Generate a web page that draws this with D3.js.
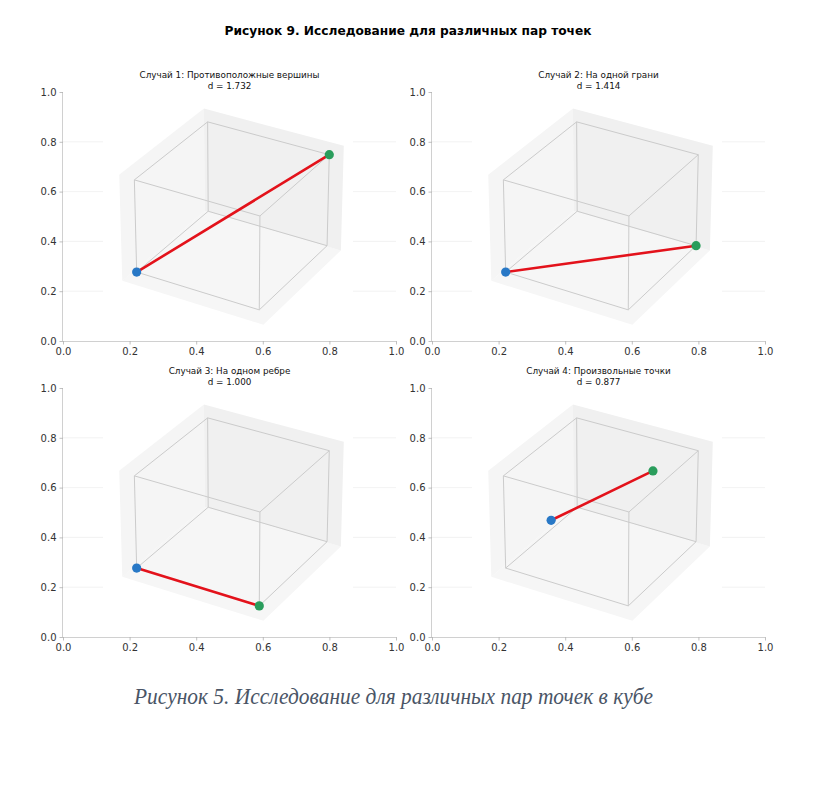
<!DOCTYPE html>
<html>
<head>
<meta charset="utf-8">
<script src="https://cdn.jsdelivr.net/npm/d3@7/dist/d3.min.js"></script>
<style>
  body { margin: 0; background: #fff; }
</style>
</head>
<body>
<div id="chart"></div>
<script>
// --- data ---
const caseTitles = [
  "Случай 1: Противоположные вершины",
  "Случай 2: На одной грани",
  "Случай 3: На одном ребре",
  "Случай 4: Произвольные точки"
]
const distances = ["1.732", "1.414", "1.000", "0.877"]
const startPoints = [[0, 0, 0], [0, 0, 0], [0, 0, 0], [0.2, 0.3, 0.4]]
const endPoints = [[1, 1, 1], [1, 1, 0], [1, 0, 0], [0.8, 0.7, 0.9]]
const axisTicks = [0, 0.2, 0.4, 0.6, 0.8, 1.0]
const gridTicks = [0.2, 0.4, 0.6, 0.8]
const cubeRange = [0, 1]

const figTitle = "Рисунок 9. Исследование для различных пар точек"
const caption = "Рисунок 5. Исследование для различных пар точек в кубе"

// --- layout ---
const W = 816, H = 804
const AX_W = 333, AX_H = 249
const panelOrigins = [[63, 92], [432, 92], [63, 388], [432, 388]]
const SANS = "DejaVu Sans, sans-serif"

// 3d view (matplotlib-like: elev 30, box aspect 4:4:3, mild perspective)
const ELEV = 30 * Math.PI / 180
const AZIM = 30 * Math.PI / 180
const Z_ASPECT = 0.75
const EYE = 16
const PAD = 0.075
const CUBE_SCALE = 141
const CUBE_CX = 169.8, CUBE_CY = 121.5

const COLORS = {
  start: "#2878c6",
  end: "#2a9d5c",
  segment: "#e3121b",
  edge: "#cbcbcb",
  paneX: "#f5f5f5",
  paneY: "#f0f0f0",
  paneZ: "#f6f6f6",
  spine: "#d0d0d0",
  grid: "#efefef",
  tickText: "#333"
}

function project([x, y, z]) {
  const X = x - 0.5, Y = y - 0.5, Z = (z - 0.5) * Z_ASPECT
  const sx = X * Math.cos(AZIM) + Y * Math.sin(AZIM)
  const fwd = -X * Math.sin(AZIM) + Y * Math.cos(AZIM)
  const up = Math.sin(ELEV) * fwd + Math.cos(ELEV) * Z
  const depth = Math.cos(ELEV) * fwd - Math.sin(ELEV) * Z
  const k = EYE / (EYE + depth)
  return [sx * k, up * k]
}

const svg = d3.select("#chart").append("svg")
  .attr("width", W).attr("height", H)
  .attr("viewBox", [0, 0, W, H])

svg.append("rect").attr("width", W).attr("height", H).attr("fill", "#fff")

svg.append("text")
  .attr("x", W / 2).attr("y", 35)
  .attr("text-anchor", "middle")
  .attr("font-family", SANS)
  .attr("font-size", "12.2px")
  .attr("font-weight", "bold")
  .attr("fill", "#000")
  .text(figTitle)

// cube geometry
const [lo, hi] = cubeRange
const plo = lo - PAD, phi = hi + PAD
const cubeEdges = []
cubeRange.forEach(a => cubeRange.forEach(b => {
  cubeEdges.push([[lo, a, b], [hi, a, b]])
  cubeEdges.push([[a, lo, b], [a, hi, b]])
  cubeEdges.push([[a, b, lo], [a, b, hi]])
}))
const panes = [
  { fill: COLORS.paneZ, pts: [[plo, plo, plo], [phi, plo, plo], [phi, phi, plo], [plo, phi, plo]] },
  { fill: COLORS.paneX, pts: [[plo, plo, plo], [plo, phi, plo], [plo, phi, phi], [plo, plo, phi]] },
  { fill: COLORS.paneY, pts: [[plo, phi, plo], [phi, phi, plo], [phi, phi, phi], [plo, phi, phi]] }
]

caseTitles.forEach((title, i) => {
  const [ox, oy] = panelOrigins[i]
  const g = svg.append("g").attr("transform", `translate(${ox},${oy})`)

  const x = d3.scaleLinear().domain([0, 1]).range([0, AX_W])
  const y = d3.scaleLinear().domain([0, 1]).range([AX_H, 0])

  // faint horizontal grid
  g.append("g")
    .selectAll("line")
    .data(gridTicks)
    .join("line")
    .attr("x1", 0).attr("x2", AX_W)
    .attr("y1", d => y(d)).attr("y2", d => y(d))
    .attr("stroke", COLORS.grid)
    .attr("stroke-width", 0.8)

  // 3d axes background covers the middle
  g.append("rect")
    .attr("x", x(0.12)).attr("y", 0)
    .attr("width", x(0.871) - x(0.12)).attr("height", AX_H)
    .attr("fill", "#fff")

  // axes
  const xAxis = g.append("g")
    .attr("transform", `translate(0,${AX_H})`)
    .call(d3.axisBottom(x).tickValues(axisTicks).tickFormat(d3.format(".1f")).tickSize(3.5).tickPadding(3))
  const yAxis = g.append("g")
    .call(d3.axisLeft(y).tickValues(axisTicks).tickFormat(d3.format(".1f")).tickSize(3.5).tickPadding(3))
  ;[xAxis, yAxis].forEach(a => {
    a.select(".domain").attr("stroke", COLORS.spine).attr("stroke-width", 1)
    a.selectAll(".tick line").attr("stroke", "#b0b0b0").attr("stroke-width", 0.8)
    a.selectAll(".tick text")
      .attr("font-size", "10px")
      .attr("font-family", SANS)
      .attr("fill", COLORS.tickText)
  })
  xAxis.select(".domain").attr("d", `M0,0.5H${AX_W}`)
  yAxis.select(".domain").attr("d", `M-0.5,0V${AX_H}`)

  // subplot title
  const t = g.append("text")
    .attr("x", AX_W / 2).attr("y", -14)
    .attr("text-anchor", "middle")
    .attr("font-family", SANS)
    .attr("font-size", "8.8px")
    .attr("fill", "#111")
  t.append("tspan").attr("x", AX_W / 2).text(title)
  t.append("tspan").attr("x", AX_W / 2).attr("dy", 10.5).text(`d = ${distances[i]}`)

  // 3d projection scales
  const px = d3.scaleLinear().domain([-1, 1]).range([CUBE_CX - CUBE_SCALE, CUBE_CX + CUBE_SCALE])
  const py = d3.scaleLinear().domain([-1, 1]).range([CUBE_CY + CUBE_SCALE, CUBE_CY - CUBE_SCALE])
  const toScreen = p => { const [u, v] = project(p); return [px(u), py(v)] }
  const line = d3.line().x(d => toScreen(d)[0]).y(d => toScreen(d)[1])

  g.append("g")
    .selectAll("path")
    .data(panes)
    .join("path")
    .attr("d", d => line(d.pts) + "Z")
    .attr("fill", d => d.fill)
    .attr("stroke", "none")

  g.append("g")
    .selectAll("path")
    .data(cubeEdges)
    .join("path")
    .attr("d", d => line(d))
    .attr("fill", "none")
    .attr("stroke", COLORS.edge)
    .attr("stroke-width", 1)

  const seg = [startPoints[i], endPoints[i]]
  g.append("path")
    .attr("d", line(seg))
    .attr("fill", "none")
    .attr("stroke", COLORS.segment)
    .attr("stroke-width", 2.6)
    .attr("stroke-linecap", "round")

  g.append("g")
    .selectAll("circle")
    .data([{ p: startPoints[i], c: COLORS.start }, { p: endPoints[i], c: COLORS.end }])
    .join("circle")
    .attr("cx", d => toScreen(d.p)[0])
    .attr("cy", d => toScreen(d.p)[1])
    .attr("r", 4.6)
    .attr("fill", d => d.c)
})

// caption set in a narrow Times-like italic
svg.append("text")
  .attr("x", 134).attr("y", 704)
  .attr("font-family", "Liberation Serif, serif")
  .attr("font-style", "italic")
  .attr("font-size", "24px")
  .attr("textLength", 519)
  .attr("lengthAdjust", "spacingAndGlyphs")
  .attr("fill", "#4a5566")
  .text(caption)
</script>
</body>
</html>
